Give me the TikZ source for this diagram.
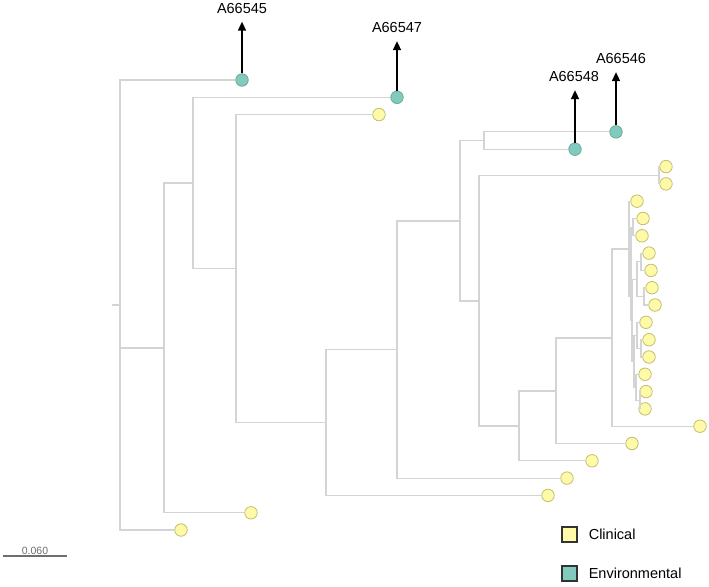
\documentclass[tikz,border=0pt]{standalone}
\usepackage{fontspec}
\setmainfont{Liberation Sans}
\usetikzlibrary{arrows.meta,positioning}

\definecolor{branchgray}{RGB}{212,212,212}
\definecolor{clinfill}{RGB}{255,250,168}
\definecolor{clinedge}{RGB}{196,190,112}
\definecolor{envfill}{RGB}{128,203,189}
\definecolor{envedge}{RGB}{112,168,154}
\definecolor{scalegray}{RGB}{110,110,110}

\tikzset{
  branch/.style={draw=branchgray, line width=1.1pt},
  clin/.style={circle, fill=clinfill, draw=clinedge, line width=0.8pt, minimum size=12.5pt, inner sep=0pt},
  env/.style={circle, fill=envfill, draw=envedge, line width=0.8pt, minimum size=12.5pt, inner sep=0pt},
  tiplabel/.style={font=\fontsize{14.5}{16}\selectfont, inner sep=0pt, outer ysep=8pt},
  pointer/.style={line width=1.6pt, -{Triangle[width=8pt,length=9pt]}},
  legbox/.style={draw=black!80, line width=1.2pt, minimum size=15pt, inner sep=0pt},
  legtext/.style={font=\fontsize{14.5}{16}\selectfont, inner sep=0pt},
}

\begin{document}
\begin{tikzpicture}[x=1pt,y=-1pt]
\useasboundingbox (0,0) rectangle (709,586);

% tips
\node[env]  (t1)  at (242,80)    {};
\node[env]  (t2)  at (397,97.3)  {};
\node[clin] (t3)  at (379,114.6) {};
\node[env]  (t4)  at (616,131.9) {};
\node[env]  (t5)  at (575,149.2) {};
\node[clin] (t6)  at (666,166.6) {};
\node[clin] (t7)  at (666,183.9) {};
\node[clin] (t8)  at (637,201.2) {};
\node[clin] (t9)  at (643,218.5) {};
\node[clin] (t10) at (642,235.8) {};
\node[clin] (t11) at (649,253.1) {};
\node[clin] (t12) at (651,270.4) {};
\node[clin] (t13) at (652,287.7) {};
\node[clin] (t14) at (655,305.0) {};
\node[clin] (t15) at (646,322.3) {};
\node[clin] (t16) at (649,339.7) {};
\node[clin] (t17) at (649,357.0) {};
\node[clin] (t18) at (645,374.3) {};
\node[clin] (t19) at (646,391.6) {};
\node[clin] (t20) at (645,408.9) {};
\node[clin] (t21) at (700,426.2) {};
\node[clin] (t22) at (632,443.5) {};
\node[clin] (t23) at (592,460.8) {};
\node[clin] (t24) at (567,478.1) {};
\node[clin] (t25) at (548,495.4) {};
\node[clin] (t26) at (251,512.8) {};
\node[clin] (t27) at (181,530)   {};

% internal nodes
\coordinate (stub) at (112,305);
\coordinate (root) at (120,305);
\coordinate (nC) at (164,348);
\coordinate (nD) at (193,183);
\coordinate (nE) at (236,268.5);
\coordinate (nF) at (326,422.5);
\coordinate (nG) at (397,349.5);
\coordinate (nH) at (460,221);
\coordinate (nI) at (484,140.5);
\coordinate (nJ) at (479,301);
\coordinate (nK) at (659,175.2);
\coordinate (nL) at (519,426);
\coordinate (nM) at (556,391);
\coordinate (nN) at (612,338);
\coordinate (nO) at (629,249);
\coordinate (nP) at (631,296);
\coordinate (nQ) at (633,227.2);
\coordinate (nR) at (632,320);
\coordinate (nS) at (637,279.1);
\coordinate (nS1) at (641,261.8);
\coordinate (nS2) at (644,296.4);
\coordinate (nT) at (634,361.3);
\coordinate (nT1) at (637,335.3);
\coordinate (nT1b) at (641,348.3);
\coordinate (nT2) at (636,387.3);
\coordinate (nT2b) at (640,400.2);

% branches
\draw[branch] (stub) -- (root);
\draw[branch] (root) |- (t1);
\draw[branch] (root) |- (nC);
\draw[branch] (root) |- (t27);
\draw[branch] (nC) |- (nD);
\draw[branch] (nC) |- (t26);
\draw[branch] (nD) |- (t2);
\draw[branch] (nD) |- (nE);
\draw[branch] (nE) |- (t3);
\draw[branch] (nE) |- (nF);
\draw[branch] (nF) |- (nG);
\draw[branch] (nF) |- (t25);
\draw[branch] (nG) |- (nH);
\draw[branch] (nG) |- (t24);
\draw[branch] (nH) |- (nI);
\draw[branch] (nH) |- (nJ);
\draw[branch] (nI) |- (t4);
\draw[branch] (nI) |- (t5);
\draw[branch] (nJ) |- (nK);
\draw[branch] (nJ) |- (nL);
\draw[branch] (nK) |- (t6);
\draw[branch] (nK) |- (t7);
\draw[branch] (nL) |- (nM);
\draw[branch] (nL) |- (t23);
\draw[branch] (nM) |- (nN);
\draw[branch] (nM) |- (t22);
\draw[branch] (nN) |- (nO);
\draw[branch] (nN) |- (t21);
\draw[branch] (nO) |- (t8);
\draw[branch] (nO) |- (nP);
\draw[branch] (nP) |- (nQ);
\draw[branch] (nP) |- (nR);
\draw[branch] (nQ) |- (t9);
\draw[branch] (nQ) |- (t10);
\draw[branch] (nR) |- (nS);
\draw[branch] (nR) |- (nT);
\draw[branch] (nS) |- (nS1);
\draw[branch] (nS) |- (nS2);
\draw[branch] (nS1) |- (t11);
\draw[branch] (nS1) |- (t12);
\draw[branch] (nS2) |- (t13);
\draw[branch] (nS2) |- (t14);
\draw[branch] (nT) |- (nT1);
\draw[branch] (nT) |- (nT2);
\draw[branch] (nT1) |- (t15);
\draw[branch] (nT1) |- (nT1b);
\draw[branch] (nT1b) |- (t16);
\draw[branch] (nT1b) |- (t17);
\draw[branch] (nT2) |- (t18);
\draw[branch] (nT2) |- (nT2b);
\draw[branch] (nT2b) |- (t19);
\draw[branch] (nT2b) |- (t20);

% environmental isolates
\node[tiplabel] (l1) at (242,8.5) {A66545};
\node[tiplabel] (l2) at (397,28)  {A66547};
\node[tiplabel] (l4) at (621,59)  {A66546};
\node[tiplabel] (l5) at (574,77)  {A66548};
\draw[pointer] (t1) -- (t1 |- l1.south);
\draw[pointer] (t2) -- (t2 |- l2.south);
\draw[pointer] (t4) -- (t4 |- l4.south);
\draw[pointer] (t5) -- (t5 |- l5.south);

% scale
\coordinate (sb1) at (3,556);
\coordinate (sb2) at (67,556);
\draw[scalegray, line width=1.2pt] (sb1) -- (sb2);
\node[font=\fontsize{10.5}{12}\selectfont, text=scalegray, inner sep=0pt] (sbl) at (35,550.5) {0.060};

% legend
\node[legbox, fill=clinfill] (kc) at (569.5,534.5) {};
\node[legtext, right=11pt of kc] (kct) {Clinical};
\node[legbox, fill=envfill] (ke) at (569.5,573.5) {};
\node[legtext, right=11pt of ke] (ket) {Environmental};

\end{tikzpicture}
\end{document}
